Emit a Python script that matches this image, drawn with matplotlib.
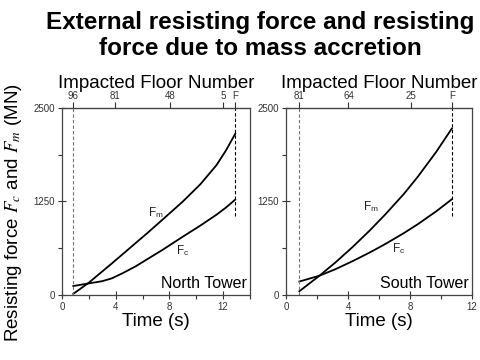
import matplotlib
matplotlib.use("Agg")
import matplotlib.pyplot as plt
from matplotlib.ticker import MultipleLocator

plt.rcParams['font.family'] = ['Liberation Sans', 'DejaVu Sans']
plt.rcParams['mathtext.fontset'] = 'stix'

# North Tower, time (s) vs force (MN)
NT_FM_T = [0.84, 2.0, 3.7, 5.0, 6.4, 7.5, 9.0, 10.3, 11.5, 12.2, 12.9]
NT_FM_V = [15, 165, 420, 620, 835, 1010, 1250, 1480, 1735, 1930, 2155]
NT_FC_T = [0.84, 2.0, 3.0, 3.7, 4.5, 5.5, 6.5, 7.5, 9.0, 10.3, 11.5, 12.2, 12.9]
NT_FC_V = [120, 155, 185, 222, 290, 385, 495, 605, 780, 928, 1073, 1168, 1275]
NT_TOP_T = [0.84, 3.95, 8.05, 11.97, 12.9]
NT_TOP_LABELS = ["96", "81", "48", "5", "F"]
NT_START, NT_END = 0.84, 12.9

# South Tower
ST_FM_T = [0.86, 2.16, 3.2, 4.3, 5.4, 6.4, 7.6, 8.5, 9.7, 10.7]
ST_FM_V = [50, 258, 437, 642, 862, 1076, 1350, 1580, 1916, 2226]
ST_FC_T = [0.86, 2.16, 3.2, 4.3, 5.4, 6.4, 7.6, 8.5, 9.7, 10.7]
ST_FC_V = [180, 258, 346, 453, 568, 681, 827, 946, 1120, 1280]
ST_TOP_T = [0.86, 4.03, 8.06, 10.7]
ST_TOP_LABELS = ["81", "64", "25", "F"]
ST_START, ST_END = 0.86, 10.7

DASH_LOW = 1060
TICK_COLOR = "#333333"


def draw_panel(ax, fm_t, fm_v, fc_t, fc_v, t0, t1, top_t, top_lab,
               xmax, name, fm_xy, fc_xy):
    ax.plot(fm_t, fm_v, color="black", lw=1.3)
    ax.plot(fc_t, fc_v, color="black", lw=1.3)
    ax.plot([t0, t0], [0, 2500], color="0.45", lw=0.8, ls=(0, (3, 2)))
    ax.plot([t1, t1], [DASH_LOW, 2500], color="black", lw=0.8, ls=(0, (3, 2)))

    ax.set_xlim(0, xmax)
    ax.set_ylim(0, 2500)
    ax.set_xticks([0, 4, 8, 12])
    ax.xaxis.set_minor_locator(MultipleLocator(2))
    ax.set_yticks([0, 1250, 2500])
    ax.yaxis.set_minor_locator(MultipleLocator(625))
    ax.tick_params(which="major", direction="inout", length=6, width=0.8,
                   labelsize=7, colors=TICK_COLOR, pad=2)
    ax.tick_params(which="minor", direction="out", length=3, width=0.8,
                   colors=TICK_COLOR)
    for sp in ax.spines.values():
        sp.set_color("#444444")
        sp.set_linewidth(0.9)

    ax.set_xlabel("Time (s)", fontsize=13.5, labelpad=1)

    top = ax.secondary_xaxis("top")
    top.set_xticks(top_t)
    top.set_xticklabels(top_lab)
    top.tick_params(direction="out", length=4, width=0.8, labelsize=7,
                    colors=TICK_COLOR, pad=1)
    top.set_xlabel("Impacted Floor Number", fontsize=13.5, labelpad=2)

    ax.text(fm_xy[0], fm_xy[1], r"F$_\mathregular{m}$", fontsize=8.5,
            ha="center", va="center", color="#222222")
    ax.text(fc_xy[0], fc_xy[1], r"F$_\mathregular{c}$", fontsize=8.5,
            ha="center", va="center", color="#222222")
    ax.text(0.985, 0.02, name, transform=ax.transAxes, fontsize=11.5,
            ha="right", va="bottom")


fig = plt.figure(figsize=(4.8, 3.6), dpi=100, facecolor="white")
ax1 = fig.add_axes([62 / 480, 65 / 360, 188 / 480, 187 / 360])
ax2 = fig.add_axes([286 / 480, 65 / 360, 186 / 480, 187 / 360])

draw_panel(ax1, NT_FM_T, NT_FM_V, NT_FC_T, NT_FC_V, NT_START, NT_END,
           NT_TOP_T, NT_TOP_LABELS, 14, "North Tower", (7.0, 1100), (9.0, 590))
draw_panel(ax2, ST_FM_T, ST_FM_V, ST_FC_T, ST_FC_V, ST_START, ST_END,
           ST_TOP_T, ST_TOP_LABELS, 12, "South Tower", (5.5, 1175), (7.25, 615))

fig.text(260 / 480, 1 - 11 / 360,
         "External resisting force and resisting\nforce due to mass accretion",
         ha="center", va="top", fontsize=17.5, fontweight="bold",
         linespacing=1.15)
fig.text(14 / 480, 1 - 213 / 360, r"Resisting force $F_c$ and $F_m$ (MN)",
         rotation=90, ha="center", va="center", fontsize=13.5)

fig.savefig("out.png", dpi=100)
